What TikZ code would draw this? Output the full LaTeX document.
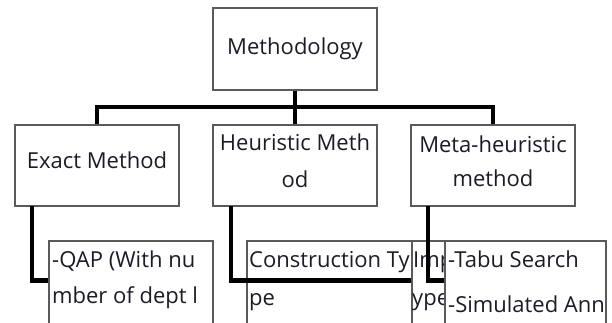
\documentclass[tikz,border=0pt]{standalone}
\usepackage{fontspec}
\setmainfont{Open Sans}
\usetikzlibrary{calc}
\definecolor{boxgray}{HTML}{5A5A5A}
\definecolor{txtcol}{HTML}{1C1C28}
\tikzset{
  box/.style={draw=boxgray, line width=1.3pt, fill=white, inner sep=0pt, rectangle},
  lbl/.style={inner sep=0pt, text=txtcol, font=\fontsize{22}{26}\selectfont},
  ltxt/.style={lbl, anchor=base west},
  ctxt/.style={lbl, anchor=base},
  conn/.style={draw=black, line width=4.5pt, line join=miter, line cap=butt}
}
\begin{document}
\begin{tikzpicture}[x=1pt,y=-1pt]
\useasboundingbox (0,0) rectangle (612,322);
\clip (0,0) rectangle (612,322);
% top-level boxes
\node[box, minimum width=164pt, minimum height=82pt] (meth) at (295,49) {};
\node[box, minimum width=164pt, minimum height=81pt] (exact) at (97,165.5) {};
\node[box, minimum width=164pt, minimum height=81pt] (heur) at (295,165.5) {};
\node[box, minimum width=164pt, minimum height=81pt] (meta) at (493,165.5) {};
% bus
\coordinate (bus) at (295,107);
\draw[conn] (exact.north) |- (bus) -| (meta.north);
\draw[conn] (meth.south) -- (heur.north);
% texts of top boxes
\node[ctxt] (tmeth) at (295,54) {Methodology};
\node[ctxt] (texact) at (97,168) {Exact Method};
\node[ctxt] (theur1) at (295,150) {Heuristic Meth};
\node[ctxt] (theur2) at (295,187) {od};
\node[ctxt] (tmeta1) at (493,152) {Meta-heuristic};
\node[ctxt] (tmeta2) at (493,186) {method};
% child boxes
\node[box, minimum width=164pt, minimum height=140pt] (qap) at (131,311) {};
\node[box, minimum width=165pt, minimum height=140pt] (cons) at (329.5,311) {};
\node[box, minimum width=150pt, minimum height=140pt] (imp) at (487,311) {};
\node[ltxt] (tqap1) at (52,267) {-QAP (With nu};
\node[ltxt] (tqap2) at (52,303) {mber of dept l};
\node[ltxt] (tcons1) at (249,267) {Construction Ty};
\node[ltxt] (tcons2) at (249,305) {pe};
\begin{scope}
\clip (412,241) rectangle (445,322);
\node[ltxt] (timp1) at (413,267) {\makebox[31pt][l]{Imp}};
\node[ltxt] (timp2) at (412,305) {\makebox[32pt][l]{ype}};
\end{scope}
% connectors to children
\coordinate (ce) at (32,206);
\coordinate (ch) at (231,206);
\coordinate (cm) at (428,206);
\draw[conn] (ce) |- ([yshift=-40pt]qap.north west);
\draw[conn] (ch) |- ([yshift=-40pt]imp.north west);
\node[box, minimum width=161pt, minimum height=140pt] (tabu) at (525.5,311) {};
\draw[conn] (cm) |- ([yshift=-40pt]tabu.north west);
\draw[draw=boxgray, line width=1.3pt] (tabu.north west) -- (tabu.south west);
\node[ltxt] (ttabu1) at (448,267) {-Tabu Search};
\node[ltxt] (ttabu2) at (448,312) {-Simulated Ann};
\end{tikzpicture}
\end{document}
